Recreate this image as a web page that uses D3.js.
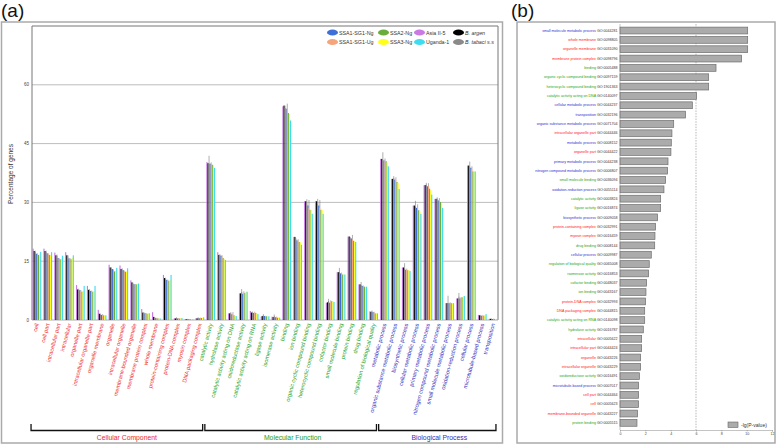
<!DOCTYPE html>
<html><head><meta charset="utf-8">
<script src="https://cdn.jsdelivr.net/npm/d3@7"></script>
<style>body{margin:0;background:#fff}svg{display:block;font-family:"Liberation Sans",Arial,sans-serif}</style>
</head><body><svg id="c" width="777" height="445"></svg>
<script>
// ---------- Panel (a) data ----------
const categories = ["cell","cell part","intracellular part","intracellular","organelle part","intracellular organelle part","organelle membrane","organelle","intracellular organelle","membrane-bounded organelle","membrane protein complex","whole membrane","protein-containing complex","protein-DNA complex","myosin complex","DNA packaging complex",
"catalytic activity","hydrolase activity","catalytic activity acting on DNA","oxidoreductase activity","catalytic activity acting on RNA","ligase activity","isomerase activity","binding","ion binding","organic cyclic compound binding","heterocyclic compound binding","cofactor binding","small molecule binding","protein binding","drug binding","regulation of biological quality",
"metabolic process","organic substance metabolic process","biosynthetic process","cellular metabolic process","primary metabolic process","nitrogen compound metabolic process","small molecule metabolic process","oxidation-reduction process","cellular process","microtubule-based process","transposition"];
const categoryClass = ["CC","CC","CC","CC","CC","CC","CC","CC","CC","CC","CC","CC","CC","CC","CC","CC",
"MF","MF","MF","MF","MF","MF","MF","MF","MF","MF","MF","MF","MF","MF","MF","MF",
"BP","BP","BP","BP","BP","BP","BP","BP","BP","BP","BP"];
const classNames = ["Cellular Component","Molecular Function","Biological Process"];
const seriesNames = ["Asia II-5","B. argen","B. tabaci s.s","SSA1-SG1-Ng","SSA1-SG1-Ug","SSA2-Ng","SSA3-Ng","Uganda-1"];
const asiaII5 = [18.2,18.2,17.2,17.3,8.9,8.7,2.6,14.1,13.9,10.1,2.8,2.0,11.5,0.45,0.2,0.45,40.3,17.3,1.7,6.8,2.3,0.9,0.85,54.5,21.2,30.3,30.3,4.4,12.2,21.3,9.1,2.2,41.1,36.0,13.4,29.2,34.4,30.9,4.3,5.5,39.4,1.3,0.3];
const bArgen = [17.6,17.6,16.5,16.5,7.8,7.7,1.6,13.4,13.0,9.6,1.9,0.8,10.7,0.4,0.2,0.45,40.0,16.6,1.7,6.8,1.9,1.0,0.75,54.7,21.2,30.3,30.3,4.5,12.2,21.3,9.1,2.1,41.1,36.0,13.4,29.2,34.4,30.9,4.3,5.5,39.4,1.2,0.3];
const bTabaci = [17.4,17.4,16.4,16.3,7.7,7.6,1.45,13.2,12.9,9.2,1.8,0.6,10.5,0.5,0.2,0.5,39.9,16.5,1.7,7.2,1.95,1.2,1.0,54.1,20.5,29.8,29.8,4.9,12.3,20.9,9.0,2.2,40.9,36.2,13.2,29.0,34.6,31.0,4.3,6.0,39.0,1.1,0.3];
const ssa1Ng = [16.9,17.0,15.8,15.7,7.6,7.4,1.3,13.0,12.7,9.1,1.7,0.5,10.2,0.4,0.15,0.45,39.9,16.4,1.45,6.7,1.8,1.0,0.7,53.9,20.3,29.2,29.2,4.4,11.9,20.8,8.7,2.0,40.7,35.8,12.8,28.6,34.1,30.5,4.3,5.5,38.8,1.1,0.25];
const ssa1Ug = [16.8,16.8,15.6,15.6,7.4,7.3,1.3,12.7,12.4,9.0,1.6,0.45,10.1,0.4,0.15,0.5,39.9,16.2,1.5,7.0,1.9,0.85,0.65,54.1,20.3,28.6,28.6,4.7,11.8,20.7,8.5,1.9,40.6,35.8,12.8,28.6,34.2,30.5,4.3,5.5,38.6,1.1,0.25];
const ssa2Ng = [16.6,16.6,15.5,15.5,7.2,7.2,1.2,12.4,12.3,9.1,1.6,0.4,10.0,0.4,0.15,0.5,39.6,15.8,1.2,6.9,1.8,0.95,0.6,52.8,19.9,28.1,28.1,4.8,11.6,20.2,8.5,1.7,40.5,35.2,12.7,28.0,33.5,30.1,4.3,5.8,37.9,1.1,0.25];
const ssa3Ng = [16.7,16.6,15.6,15.8,7.4,7.3,1.2,12.5,12.4,9.2,1.7,0.4,10.2,0.4,0.15,0.5,39.5,15.6,1.1,7.2,1.7,1.0,0.6,52.6,19.8,28.1,28.1,4.8,11.6,20.2,8.5,1.7,40.2,35.0,12.7,27.7,33.1,29.8,4.3,6.0,37.9,1.1,0.25];
const uganda1 = [17.4,17.3,16.4,16.5,8.7,8.7,1.2,13.3,13.2,9.3,1.7,0.4,11.5,0.5,0.15,0.7,38.8,15.3,1.0,7.2,1.5,0.95,0.6,50.9,19.2,27.1,27.1,4.6,11.6,19.9,8.5,1.7,39.2,33.4,12.5,27.1,32.0,28.6,4.3,6.1,37.9,1.5,0.2];
const errTabaci = [0.3,0.3,0.3,0.3,0.3,0.3,0.2,0.3,0.3,0.3,0.2,0.2,0.3,0.2,0.1,0.2,2.0,0.3,0.3,0.7,0.2,0.3,0.4,0.6,0.3,1.0,1.1,0.5,1.0,0.3,0.7,0.2,1.9,0.5,1.3,1.4,0.4,0.3,1.9,0.9,1.4,0.2,0.1];
const errUg = [0.2,0.2,0.2,0.2,0.2,0.2,0.2,0.2,0.2,0.2,0.2,0.1,0.2,0.1,0.1,0.1,0.3,0.3,0.5,0.3,0.2,0.2,0.2,1.1,0.3,2.0,2.0,0.3,0.3,1.0,0.3,0.2,0.6,0.6,0.3,0.9,0.7,0.6,0.2,0.3,0.6,0.1,0.1];
const yTicks = [0,15,30,45,60];
const legendRows = [["SSA1-SG1-Ng","SSA2-Ng","Asia II-5","B. argen"],["SSA1-SG1-Ug","SSA3-Ng","Uganda-1","B. tabaci s.s"]];

// ---------- Panel (b) data ----------
const enrichTerms = ["small molecule metabolic process","whole membrane","organelle membrane","membrane protein complex","binding","organic cyclic compound binding","heterocyclic compound binding","catalytic activity acting on DNA","cellular metabolic process","transposition","organic substance metabolic process","intracellular organelle part","metabolic process","organelle part","primary metabolic process","nitrogen compound metabolic process","small molecule binding","oxidation-reduction process","catalytic activity","ligase activity","biosynthetic process","protein-containing complex","myosin complex","drug binding","cellular process","regulation of biological quality","isomerase activity","cofactor binding","ion binding","protein-DNA complex","DNA packaging complex","catalytic activity acting on RNA","hydrolase activity","intracellular","intracellular part","organelle","intracellular organelle","oxidoreductase activity","microtubule-based process","cell part","cell","membrane-bounded organelle","protein binding"];
const enrichIds = ["GO:0044281","GO:0098805","GO:0031090","GO:0098796","GO:0005488","GO:0097159","GO:1901363","GO:0140097","GO:0044237","GO:0032196","GO:0071704","GO:0044446","GO:0008152","GO:0044422","GO:0044238","GO:0006807","GO:0036094","GO:0055114","GO:0003824","GO:0016874","GO:0009058","GO:0032991","GO:0016459","GO:0008144","GO:0009987","GO:0065008","GO:0016853","GO:0048037","GO:0043167","GO:0032993","GO:0044815","GO:0140098","GO:0016787","GO:0005622","GO:0044424","GO:0043226","GO:0043229","GO:0016491","GO:0007017","GO:0044464","GO:0005623","GO:0043227","GO:0005515"];
const enrichClass = ["BP","CC","CC","CC","MF","MF","MF","MF","BP","BP","BP","CC","BP","CC","BP","BP","MF","BP","MF","MF","BP","CC","CC","MF","BP","MF","MF","MF","MF","CC","CC","MF","MF","CC","CC","CC","CC","MF","BP","CC","CC","CC","MF"];
const enrichValues = [10.08,10.08,10.08,9.6,7.58,7.0,7.0,6.05,5.71,5.18,4.24,4.1,4.05,4.02,3.79,3.76,3.6,3.47,3.21,3.21,2.97,2.81,2.76,2.74,2.47,2.31,2.26,2.1,2.05,2.02,1.95,1.95,1.84,1.71,1.71,1.63,1.63,1.53,1.47,1.47,1.47,1.39,1.34];
const enrichTicks = [0,2,4,6,8,10,12];
const thresholdValue = 6;

// ---------- styles ----------
const seriesColors = {"Asia II-5":"#c97ae3","B. argen":"#000000","B. tabaci s.s":"#8a8a8a","SSA1-SG1-Ng":"#3c6fd8","SSA1-SG1-Ug":"#f4a57c","SSA2-Ng":"#6aad3c","SSA3-Ng":"#ffff1a","Uganda-1":"#3ddcf0"};
const classColors = {CC:"#ee2a33",MF:"#22a022",BP:"#2f2fc0"};
const classColorsB = {CC:"#ff2020",MF:"#20a820",BP:"#3030d0"};

const seriesData = [asiaII5,bArgen,bTabaci,ssa1Ng,ssa1Ug,ssa2Ng,ssa3Ng,uganda1];
const svg = d3.select("#c");
svg.append("rect").attr("width",777).attr("height",445).attr("fill","#fff");

// ---------- Panel (a) ----------
svg.append("text").attr("x",1).attr("y",17).attr("font-size",19).attr("fill","#111").text("(a)");
svg.append("rect").attr("x",1.5).attr("y",22).attr("width",501).attr("height",421).attr("fill","none").attr("stroke","#aaa").attr("stroke-width",1.5);

const pL=32, pR=498, pT=26, pB=320;
const x = d3.scaleBand().domain(categories).range([pL,pR]).paddingInner(0.2).paddingOuter(0.05);
const xs = d3.scaleBand().domain(seriesNames).range([0,x.bandwidth()]);
const y = d3.scaleLinear().domain([0,75]).range([pB,pT]);

const ga = svg.append("g");
ga.selectAll("line.grid").data(yTicks.filter(d=>d>0)).join("line")
  .attr("x1",pL).attr("x2",pR).attr("y1",d=>y(d)).attr("y2",d=>y(d))
  .attr("stroke","#bdbdbd").attr("stroke-width",1);
ga.append("path").attr("d",`M${pL},${pB}V${pT}H${pR}V${pB}`).attr("fill","none").attr("stroke","#777").attr("stroke-width",1);
ga.append("line").attr("x1",pL).attr("x2",pR).attr("y1",pB).attr("y2",pB).attr("stroke","#999").attr("stroke-width",0.8);
ga.selectAll("text.yt").data(yTicks).join("text")
  .attr("x",pL-3).attr("y",d=>y(d)+1.5).attr("text-anchor","end").attr("font-size",4.5).attr("fill","#444").text(d=>d);
ga.append("text").attr("transform",`translate(13,${(pT+pB)/2+1}) rotate(-90)`).attr("text-anchor","middle")
  .attr("font-size",6.5).attr("fill","#333").text("Percentage of genes");

// bars
seriesNames.forEach((s,si)=>{
  const vals = seriesData[si];
  ga.append("g").selectAll("rect").data(categories).join("rect")
    .attr("x",(c)=>x(c)+xs(s)).attr("width",xs.bandwidth()+0.05)
    .attr("y",(c,i)=>y(vals[i])).attr("height",(c,i)=>y(0)-y(vals[i]))
    .attr("fill",seriesColors[s]);
});
// error bars
[[2,errTabaci],[4,errUg]].forEach(([si,err])=>{
  const s = seriesNames[si], vals = seriesData[si];
  ga.append("g").selectAll("line").data(categories).join("line")
    .attr("x1",c=>x(c)+xs(s)+xs.bandwidth()/2).attr("x2",c=>x(c)+xs(s)+xs.bandwidth()/2)
    .attr("y1",(c,i)=>y(vals[i])).attr("y2",(c,i)=>y(vals[i]+err[i]))
    .attr("stroke","#777").attr("stroke-width",0.6);
});

// x labels
ga.selectAll("text.xl").data(categories).join("text")
  .attr("transform",c=>`translate(${x(c)+x.bandwidth()/2+2},${pB+4}) rotate(-75)`)
  .attr("text-anchor","end").attr("font-size",5.6)
  .attr("fill",(c,i)=>classColors[categoryClass[i]]).text(c=>c);

// legend
legendRows.forEach((row,ri)=>{
  const lx=[327,378,414,453];
  row.forEach((s,ci)=>{
    const cy = 32.5+ri*9.5;
    ga.append("ellipse").attr("cx",lx[ci]+5.5).attr("cy",cy).attr("rx",5.5).attr("ry",3).attr("fill",seriesColors[s]);
    const t = ga.append("text").attr("x",lx[ci]+12).attr("y",cy+2).attr("font-size",5.3).attr("fill","#333").text(s);
    if(s.startsWith("B.")) t.attr("font-style","italic");
  });
});

// brackets
["CC","MF","BP"].forEach((cl,k)=>{
  const cats = categories.filter((c,i)=>categoryClass[i]===cl);
  const x0 = x(cats[0])-1.5, x1 = x(cats[cats.length-1])+x.bandwidth()-1.5;
  ga.append("path").attr("d",`M${x0},424V430.5H${x1}V424`).attr("fill","none").attr("stroke","#111").attr("stroke-width",1.3);
  ga.append("text").attr("x",(x0+x1)/2+(k===0?10:2)).attr("y",439.5).attr("text-anchor","middle")
    .attr("font-size",6.8).attr("fill",classColors[cl]).text(classNames[k]);
});

// ---------- Panel (b) ----------
svg.append("text").attr("x",511).attr("y",17).attr("font-size",19).attr("fill","#111").text("(b)");
svg.append("rect").attr("x",517).attr("y",22).attr("width",258).attr("height",421).attr("fill","none").attr("stroke","#aaa").attr("stroke-width",1.5);

const xb = d3.scaleLinear().domain([0,12]).range([620,772]);
const yb = d3.scaleBand().domain(enrichTerms.map((t,i)=>enrichIds[i])).range([24.6,428.8]).padding(0.27);
const gb = svg.append("g");
gb.append("line").attr("x1",xb(thresholdValue)).attr("x2",xb(thresholdValue)).attr("y1",24).attr("y2",430)
  .attr("stroke","#999").attr("stroke-width",0.7).attr("stroke-dasharray","1.5,1.2");
gb.selectAll("rect").data(enrichValues).join("rect")
  .attr("x",xb(0)).attr("y",(v,i)=>yb(enrichIds[i])).attr("height",yb.bandwidth())
  .attr("width",v=>xb(v)-xb(0)).attr("fill","#ababab").attr("stroke","#6e6e6e").attr("stroke-width",0.7);
gb.append("line").attr("x1",xb(0)).attr("x2",xb(0)).attr("y1",24).attr("y2",430).attr("stroke","#888").attr("stroke-width",0.5);
const lab = gb.selectAll("text.lb").data(enrichTerms).join("text")
  .attr("x",617.5).attr("y",(t,i)=>yb(enrichIds[i])+yb.bandwidth()/2+1.2)
  .attr("text-anchor","end").attr("font-size",3.6);
lab.append("tspan").attr("fill",(t,i)=>classColorsB[enrichClass[i]]).text(t=>t);
lab.append("tspan").attr("fill","#333").text((t,i)=>" "+enrichIds[i]);

const axB = gb.append("g").attr("transform","translate(0,430)")
  .call(d3.axisBottom(xb).tickValues(enrichTicks).tickSize(1.5).tickFormat(d3.format("d")));
axB.select(".domain").attr("stroke","#888").attr("stroke-width",0.5);
axB.selectAll(".tick line").attr("stroke","#888").attr("stroke-width",0.5);
axB.selectAll("text").attr("font-size",3.6).attr("fill","#444").attr("dy","0.9em").attr("y",1.5);

gb.append("rect").attr("x",728).attr("y",422).attr("width",10).attr("height",5.5).attr("fill","#ababab").attr("stroke","#666").attr("stroke-width",0.6);
gb.append("text").attr("x",741).attr("y",427).attr("font-size",5).attr("fill","#333").text("-lg(P-value)");
</script></body></html>
